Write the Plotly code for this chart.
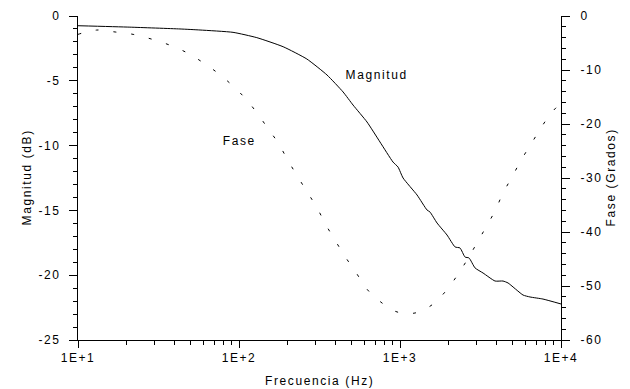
import plotly.graph_objects as go

# Magnitude (dB) vs frequency (Hz)
mag_freq = [10, 21, 43, 57.3, 91.8, 129, 188, 264, 352, 443, 511, 624, 751, 905, 972,
            1045, 1276, 1472, 1535, 1698, 1959, 2198, 2360, 2535, 2685, 2925, 3280,
            3893, 4364, 4690, 5810, 6415, 7727, 10000]
mag_db = [-0.75, -0.86, -1.0, -1.08, -1.26, -1.67, -2.37, -3.32, -4.55, -5.86, -6.87,
          -8.18, -9.72, -11.27, -11.65, -12.5, -13.81, -14.97, -15.12, -15.97, -16.9,
          -17.82, -17.9, -18.6, -18.67, -19.44, -19.83, -20.45, -20.45, -20.6, -21.53,
          -21.68, -21.84, -22.22]

# Phase (degrees) vs frequency (Hz)
ph_freq = [10, 13.1, 17.0, 22.0, 28.8, 37.2, 47.5, 58.9, 74.1, 90.5, 109, 129, 151, 175,
           201, 232, 268, 305, 347, 400, 462, 541, 624, 762, 958, 1239, 1580, 1931, 2260,
           2608, 3009, 3420, 3890, 4364, 4966, 5650, 6518, 7520, 8670, 10000]
ph_deg = [-3.4, -2.6, -2.96, -3.4, -4.3, -5.4, -6.8, -8.5, -10.6, -12.8, -15.2, -17.9,
          -20.8, -23.5, -26.7, -29.8, -32.8, -35.5, -38.7, -41.8, -44.8, -47.8, -50.6,
          -53.0, -54.8, -55.0, -53.5, -50.9, -48.1, -45.2, -42.0, -39.1, -36.1, -32.8,
          -29.8, -26.7, -23.7, -20.7, -18.0, -16.1]

x_tickvals = [10, 100, 1000, 10000]
x_ticktext = ["1E+1", "1E+2", "1E+3", "1E+4"]
y1_tickvals = [0, -5, -10, -15, -20, -25]
y1_ticktext = ["0", "-5", "-10", "-15", "-20", "-25"]
y2_tickvals = [0, -10, -20, -30, -40, -50, -60]
y2_ticktext = ["0", "-10", "-20", "-30", "-40", "-50", "-60"]

font = dict(family="Liberation Sans, Arial, sans-serif", size=12, color="black")

fig = go.Figure()
fig.add_trace(go.Scatter(x=mag_freq, y=mag_db, mode="lines", line=dict(color="black", width=1),
                         line_shape="spline", line_smoothing=0.5, showlegend=False))
fig.add_trace(go.Scatter(x=ph_freq, y=ph_deg, mode="lines", yaxis="y2",
                         line=dict(color="black", width=1, dash="3px,15px"),
                         line_shape="spline", showlegend=False))

fig.update_layout(
    width=630, height=389,
    margin=dict(l=78, r=69, t=16, b=49),
    paper_bgcolor="white", plot_bgcolor="white",
    font=font,
    xaxis=dict(type="log", range=[1, 4], tickvals=x_tickvals, ticktext=x_ticktext,
               showline=True, linecolor="black", linewidth=1, ticks="outside",
               ticklen=7, tickcolor="black", showgrid=False, zeroline=False, automargin=False,
               minor=dict(ticks="outside", ticklen=4, tickcolor="black", dtick="D1", showgrid=False)),
    yaxis=dict(range=[-25, 0], tickvals=y1_tickvals, ticktext=y1_ticktext,
               showline=True, linecolor="black", linewidth=1,
               ticks="outside", ticklen=8, tickcolor="black", showgrid=False, zeroline=False,
               automargin=False, ticklabelstandoff=6,
               minor=dict(ticks="outside", ticklen=4, dtick=1, tickcolor="black", showgrid=False)),
    yaxis2=dict(range=[-60, 0], tickvals=y2_tickvals, ticktext=y2_ticktext,
                overlaying="y", side="right", showline=True,
                linecolor="black", linewidth=1, ticks="outside", ticklen=8, tickcolor="black",
                showgrid=False, zeroline=False, automargin=False, ticklabelstandoff=8,
                minor=dict(ticks="outside", ticklen=4, dtick=2, tickcolor="black", showgrid=False)),
    annotations=[
        dict(text="Magnitud", x=0.617, y=0.846, xref="paper", yref="paper",
             showarrow=False, font=font),
        dict(text="Fase", x=0.335, y=0.614, xref="paper", yref="paper",
             showarrow=False, font=font),
        dict(text="Magnitud (dB)", x=-0.1242, y=0.5, xref="paper", yref="paper",
             textangle=-90, showarrow=False, font=font),
        dict(text="Fase (Grados)", x=1.1222, y=0.5, xref="paper", yref="paper",
             textangle=-90, showarrow=False, font=font),
        dict(text="Frecuencia (Hz)", x=0.5, y=-0.1265, xref="paper", yref="paper",
             yanchor="middle", showarrow=False, font=font),
    ],
)

post = ("document.body.style.margin='0';document.body.style.padding='0';"
        "document.querySelectorAll('.main-svg text').forEach(function(t){"
        "t.style.letterSpacing='1.6px';});")
fig.write_html("out.html", post_script=post, config={"displayModeBar": False})
